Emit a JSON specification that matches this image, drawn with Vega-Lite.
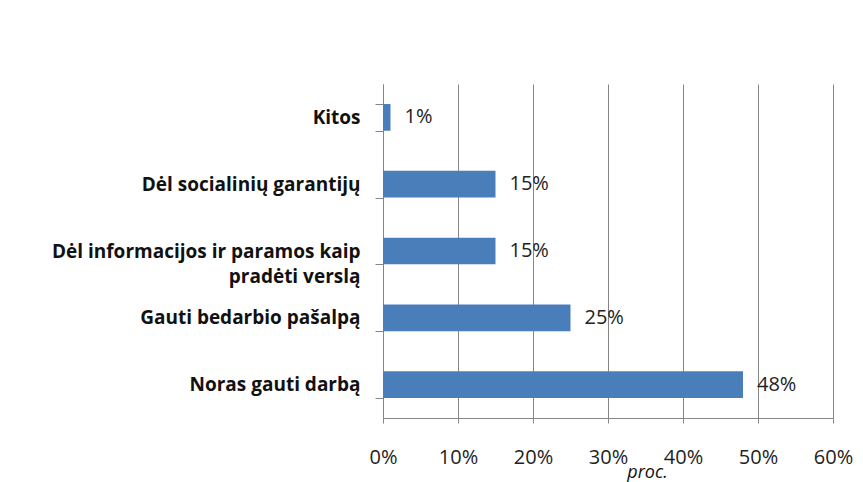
{
  "$schema": "https://vega.github.io/schema/vega-lite/v6.json",
  "width": 450,
  "height": 334,
  "autosize": "none",
  "padding": {"left": 383, "top": 84, "right": 30, "bottom": 64},
  "background": "white",
  "config": {
    "view": {"stroke": null},
    "font": "Open Sans"
  },
  "data": {
    "values": [
      {"reason": "Kitos", "pct": 1, "label": "1%"},
      {"reason": "Dėl socialinių garantijų", "pct": 15, "label": "15%"},
      {"reason": "Dėl informacijos ir paramos kaip pradėti verslą", "pct": 15, "label": "15%"},
      {"reason": "Gauti bedarbio pašalpą", "pct": 25, "label": "25%"},
      {"reason": "Noras gauti darbą", "pct": 48, "label": "48%"}
    ]
  },
  "encoding": {
    "y": {
      "field": "reason",
      "type": "nominal",
      "sort": null,
      "scale": {"paddingInner": 0.6, "paddingOuter": 0.3},
      "axis": {
        "title": null,
        "tickBand": "extent",
        "tickSize": 8,
        "tickColor": "#868686",
        "domainColor": "#868686",
        "labelFont": "Open Sans",
        "labelFontWeight": "bold",
        "labelFontSize": 19,
        "labelColor": "#111111",
        "labelPadding": 15,
        "labelLineHeight": 25,
        "labelLimit": 400,
        "labelExpr": "datum.value == 'Dėl informacijos ir paramos kaip pradėti verslą' ? ['Dėl informacijos ir paramos kaip', 'pradėti verslą'] : datum.value"
      }
    },
    "x": {
      "field": "pct",
      "type": "quantitative",
      "scale": {"domain": [0, 60]},
      "axis": {
        "title": "proc.",
        "titleFont": "Open Sans",
        "titleFontStyle": "italic",
        "titleFontWeight": "normal",
        "titleFontSize": 18,
        "titleColor": "#111111",
        "titleX": 264,
        "titleY": 59,
        "titleBaseline": "alphabetic",
        "values": [0, 10, 20, 30, 40, 50, 60],
        "labelExpr": "datum.value + '%'",
        "labelFont": "Open Sans",
        "labelFontSize": 20,
        "labelColor": "#222222",
        "labelPadding": 24,
        "labelFlush": false,
        "tickSize": 5,
        "tickColor": "#868686",
        "domainColor": "#868686",
        "gridColor": "#868686",
        "gridOpacity": 1,
        "grid": true
      }
    }
  },
  "layer": [
    {"mark": {"type": "bar", "color": "#4a7ebb"}},
    {
      "mark": {"type": "text", "align": "left", "baseline": "middle", "dx": 14, "fontSize": 20, "font": "Open Sans", "color": "#222222"},
      "encoding": {"text": {"field": "label", "type": "nominal"}, "x": {"field": "pct", "type": "quantitative"}}
    }
  ]
}
